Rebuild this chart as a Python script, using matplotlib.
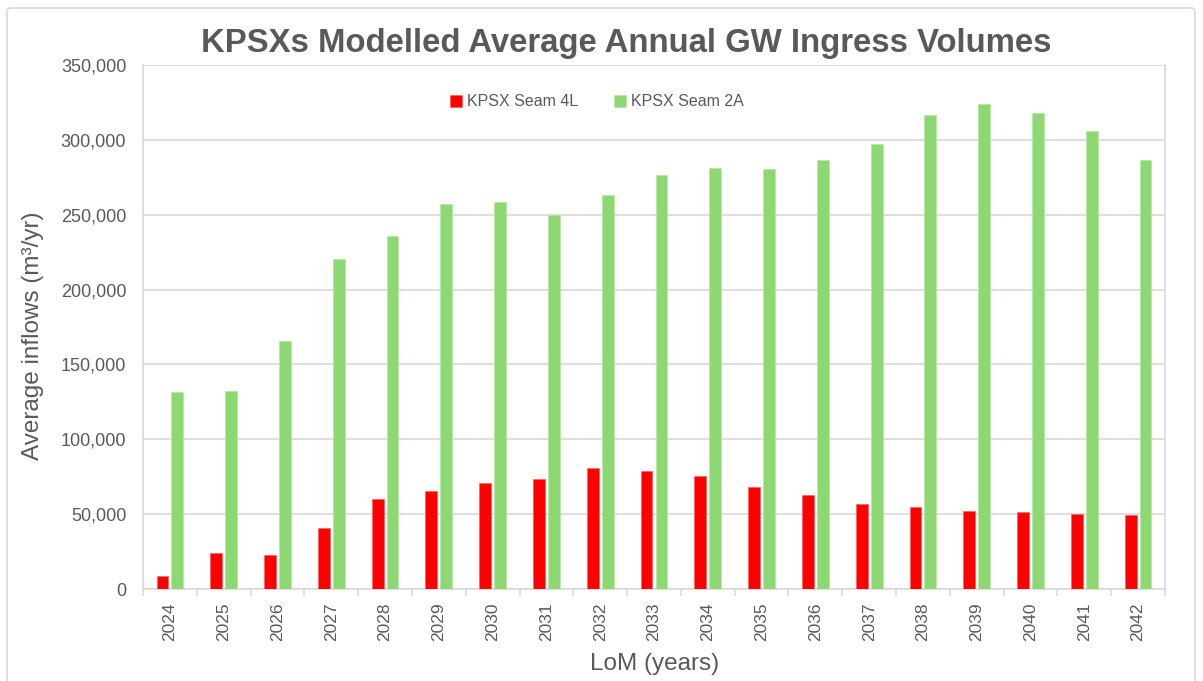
import numpy as np
import matplotlib
matplotlib.use("Agg")
import matplotlib.pyplot as plt
from matplotlib.patches import FancyBboxPatch
from matplotlib.ticker import FuncFormatter, FixedLocator

# data
years = ["2024", "2025", "2026", "2027", "2028", "2029", "2030", "2031", "2032", "2033",
         "2034", "2035", "2036", "2037", "2038", "2039", "2040", "2041", "2042"]
seam_4l = [8500, 23900, 22800, 40800, 60200, 65700, 70900, 73600, 80900, 78600,
           75600, 67800, 62900, 56700, 55000, 52400, 51700, 50100, 49600]
seam_2a = [131400, 132000, 165800, 220300, 235600, 256900, 258500, 249500, 263000, 276800,
           281000, 280500, 286800, 297000, 316300, 323800, 318200, 305900, 286400]

txt = "#595959"
grid = "#D9D9D9"
plt.rcParams["font.family"] = ["Liberation Sans", "DejaVu Sans"]

fig = plt.figure(figsize=(12.03, 6.81), dpi=100)
ax = fig.add_axes([143/1203, 1-589/681, (1165-143)/1203, (589-65)/681])

# outer chart border
fig.patches.append(FancyBboxPatch((7/1203, -0.02), 1188/1203, 1-8/681+0.02,
                                  boxstyle="round,pad=0,rounding_size=0.004",
                                  transform=fig.transFigure, fill=False,
                                  edgecolor=grid, linewidth=1.2))

x = np.arange(len(years))
w = 0.22
off = 0.1385
ax.bar(x - off, seam_4l, w, color="#FF0000", edgecolor="#FF6060", linewidth=0.5,
       label="KPSX Seam 4L", zorder=3)
ax.bar(x + off, seam_2a, w, color="#8ED873", edgecolor="#B5E8A2", linewidth=0.5,
       label="KPSX Seam 2A", zorder=3)

ax.set_xlim(-0.5, len(years) - 0.5)
ax.set_ylim(0, 350000)
ax.set_yticks(np.arange(0, 350001, 50000))
ax.yaxis.set_major_formatter(FuncFormatter(lambda v, p: f"{int(v):,}"))
ax.grid(axis="y", color=grid, linewidth=1.2, zorder=0)

ax.set_xticks(x)
ax.set_xticklabels(years, rotation=90)
ax.xaxis.set_minor_locator(FixedLocator(np.arange(-0.5, len(years), 1)))
ax.tick_params(axis="x", which="major", length=0, pad=9.5, labelsize=12.5, labelcolor=txt)
ax.tick_params(axis="x", which="minor", length=5, color=grid, width=1.2)
ax.tick_params(axis="y", length=0, pad=12, labelsize=13, labelcolor=txt)

for s in ["left", "right", "bottom"]:
    ax.spines[s].set_color(grid)
    ax.spines[s].set_linewidth(1.2)
ax.spines["top"].set_visible(False)

ax.set_ylabel("Average inflows (m³/yr)", fontsize=17.5, color=txt)
ax.yaxis.set_label_coords(-0.097, 0.483)
ax.set_xlabel("LoM (years)", fontsize=17.5, color=txt)
ax.xaxis.set_label_coords(0.501, -0.122)

fig.text(626/1203, 1-52/681, "KPSXs Modelled Average Annual GW Ingress Volumes",
         ha="center", va="baseline", fontsize=23.7, fontweight="bold", color=txt)

fig.legend(loc="center", bbox_to_anchor=(597/1203, 1-102/681), ncol=2, frameon=False,
           fontsize=11.5, labelcolor=txt, handlelength=0.75, handleheight=0.75,
           handletextpad=0.35, columnspacing=2.2)

fig.savefig("out.png", dpi=100, facecolor="white")
